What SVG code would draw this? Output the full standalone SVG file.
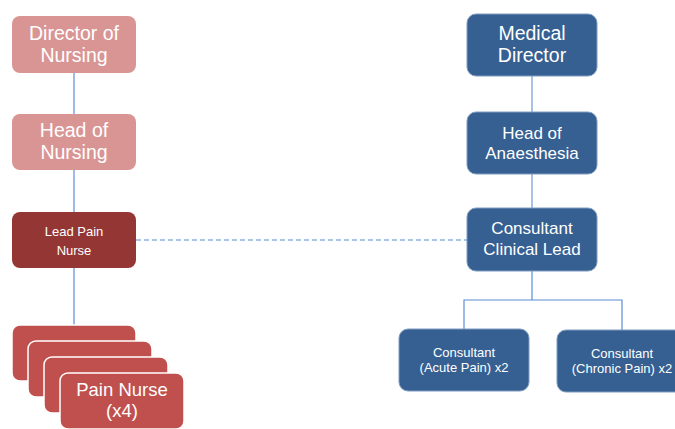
<svg xmlns="http://www.w3.org/2000/svg" width="675" height="429" viewBox="0 0 675 429">
<style>
text{font-family:"Liberation Sans",Arial,sans-serif;fill:#fff;text-anchor:middle}
.pink rect{fill:#D99594}
.dark rect{fill:#943634}
.red rect{fill:#C0504D;stroke:#fff;stroke-width:1.5}
.blue rect{fill:#366092;stroke:#7F9CC0;stroke-width:1}
.big{font-size:19.5px}
.pn{font-size:18.5px}
.mid{font-size:17px}
.sm{font-size:13px}
.lnL{stroke:#5B8ED6;stroke-width:1.2;fill:none}
.lnR{stroke:#8EADD8;stroke-width:1.5;fill:none}
</style>
<rect width="675" height="429" fill="#fff"/>
<g id="connectors">
<line class="lnL" x1="74" y1="73" x2="74" y2="114"/>
<line class="lnL" x1="74" y1="170" x2="74" y2="212"/>
<line class="lnL" x1="74" y1="268" x2="74" y2="325"/>
<line class="lnL" x1="136" y1="240" x2="467" y2="240" stroke-dasharray="5,3"/>
<line class="lnR" x1="532" y1="76" x2="532" y2="112"/>
<line class="lnR" x1="532" y1="174" x2="532" y2="208"/>
<path class="lnL" d="M532 271V300M464 329V300H622V330"/>
</g>
<g id="director-nursing" class="pink">
<rect x="12" y="16" width="124" height="57" rx="8"/>
<text class="big" x="74" y="40">Director of</text>
<text class="big" x="74" y="62">Nursing</text>
</g>
<g id="head-nursing" class="pink">
<rect x="12" y="114" width="124" height="56" rx="8"/>
<text class="big" x="74" y="137">Head of</text>
<text class="big" x="74" y="159">Nursing</text>
</g>
<g id="lead-pain-nurse" class="dark">
<rect x="12" y="212" width="124" height="56" rx="8"/>
<text class="sm" x="74" y="236">Lead Pain</text>
<text class="sm" x="74" y="255">Nurse</text>
</g>
<g id="pain-nurse" class="red">
<rect x="12" y="325" width="124" height="56" rx="8"/>
<rect x="28" y="341" width="124" height="56" rx="8"/>
<rect x="44" y="357" width="124" height="56" rx="8"/>
<rect x="60" y="373" width="124" height="56" rx="8"/>
<text class="pn" x="122" y="396">Pain Nurse</text>
<text class="pn" x="122" y="417">(x4)</text>
</g>
<g id="medical-director" class="blue">
<rect x="467" y="14" width="130" height="62" rx="9"/>
<text class="big" x="532" y="40">Medical</text>
<text class="big" x="532" y="62">Director</text>
</g>
<g id="head-anaesthesia" class="blue">
<rect x="467" y="112" width="130" height="62" rx="9"/>
<text class="mid" x="532" y="139">Head of</text>
<text class="mid" x="532" y="159">Anaesthesia</text>
</g>
<g id="consultant-lead" class="blue">
<rect x="467" y="208" width="130" height="63" rx="9"/>
<text class="mid" x="532" y="234">Consultant</text>
<text class="mid" x="532" y="255">Clinical Lead</text>
</g>
<g id="consultant-acute" class="blue">
<rect x="399" y="329" width="130" height="62" rx="9"/>
<text class="sm" x="464" y="357">Consultant</text>
<text class="sm" x="464" y="372">(Acute Pain) x2</text>
</g>
<g id="consultant-chronic" class="blue">
<rect x="557" y="330" width="130" height="62" rx="9"/>
<text class="sm" x="622" y="358">Consultant</text>
<text class="sm" x="622" y="373">(Chronic Pain) x2</text>
</g>
</svg>
